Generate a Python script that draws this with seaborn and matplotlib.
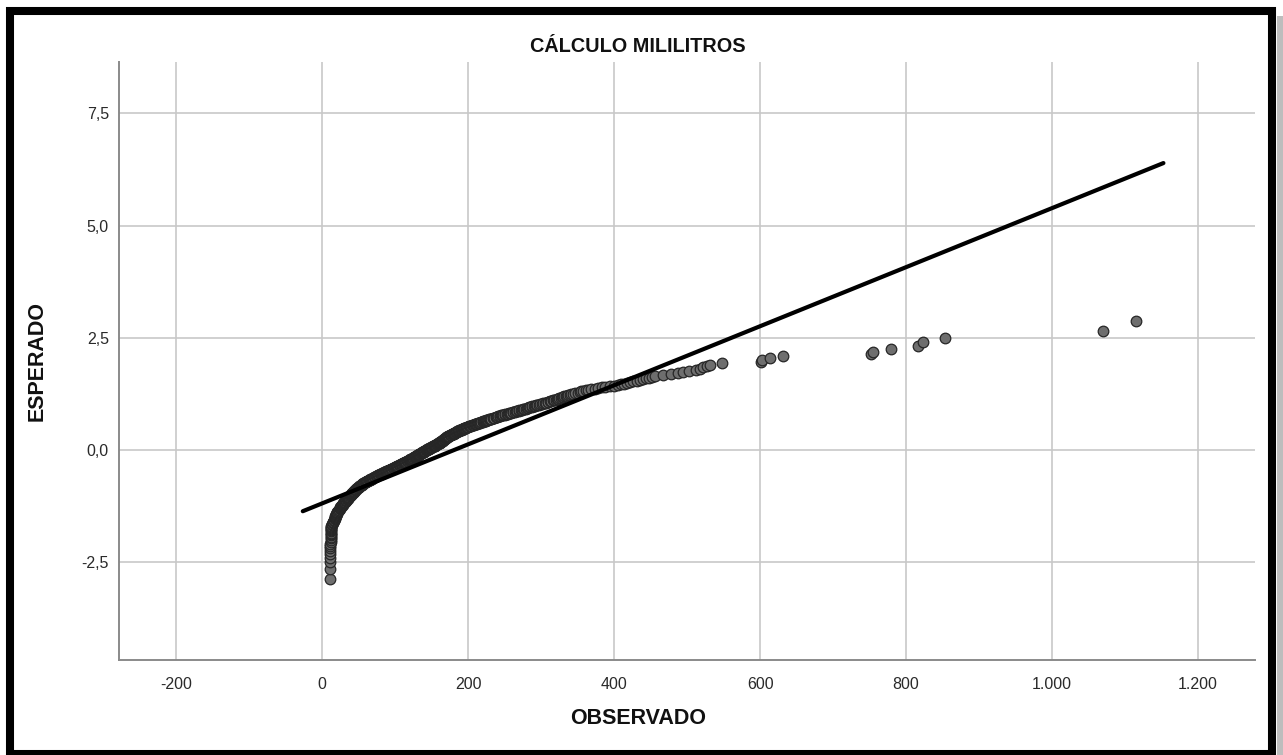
import statistics
import numpy as np
import pandas as pd
import matplotlib
matplotlib.use("Agg")
import matplotlib.pyplot as plt
from matplotlib.patches import Rectangle
import seaborn as sns

# ---------------- data ----------------
title = "CÁLCULO MILILITROS"
x_label = "OBSERVADO"
y_label = "ESPERADO"
x_ticks = [-200, 0, 200, 400, 600, 800, 1000, 1200]
x_tick_labels = ["-200", "0", "200", "400", "600", "800", "1.000", "1.200"]
y_ticks = [-2.5, 0.0, 2.5, 5.0, 7.5]
y_tick_labels = ["-2,5", "0,0", "2,5", "5,0", "7,5"]

observed_ml = [
    11, 11, 11, 11, 11, 11, 11, 11, 11,
    12, 12, 12, 12, 12, 12, 12, 12, 12, 12, 12, 12, 12,
    13, 14, 15,
    15, 15, 16, 16, 17, 17, 17, 18, 18, 19, 19, 19, 20, 20, 21, 21, 22,
    22, 23, 23, 24, 24, 25, 25, 26, 26,
    27, 27, 28, 28, 29, 29, 30, 30, 31, 31, 32, 32, 33, 33, 34, 34, 35,
    35, 36, 36, 37, 37, 38, 38, 39, 39, 40, 40, 41, 41, 41, 42, 42, 43, 43, 44, 44, 44, 45, 45,
    46, 46, 47, 47, 48, 48, 49, 50, 50, 51, 51, 52, 52, 53, 54, 54, 55, 55, 56, 56, 57,
    58, 58, 59, 60, 60, 61, 62, 62, 63, 64, 65, 65, 66, 67, 67, 68, 69, 69, 70, 71, 72, 72, 73,
    74, 75, 75, 76, 77, 78, 78, 79, 80, 81, 82, 82, 83, 84, 85, 85, 86, 87, 88, 89, 89, 90, 91,
    92, 92, 93, 94, 95, 96, 96, 97,
    98, 98, 99, 100, 100, 101, 102, 102, 103, 104, 104, 105, 106, 106, 107, 108, 108, 109, 109,
    110, 111, 111, 112, 113, 113, 114, 115, 115, 116, 117, 117, 118, 119, 119, 120,
    121, 121, 122, 122, 123, 123, 124, 124, 125, 125, 126, 126, 127, 128, 128, 129, 129, 130,
    130, 131, 131, 132, 132, 133, 133, 134, 134, 135, 136, 136, 137, 137, 138, 138, 139, 139,
    140, 140, 141, 141, 142, 142, 143,
    144, 144, 145, 145, 146, 147, 147, 148, 148, 149, 149, 150, 151, 151, 152, 152, 153, 154,
    154, 155, 155, 156, 156, 157, 158, 158, 159, 159, 160,
    160, 161, 161, 162, 162, 162, 163, 163, 164, 164, 165, 165, 165, 166, 166, 167, 167, 167,
    168, 168, 169, 169, 169, 170, 170, 171, 171,
    172, 172, 173, 174, 174, 175, 176, 176, 177, 178, 178, 179, 180, 180, 181, 182, 182, 183,
    183, 184, 185, 185,
    186, 187, 187, 188, 189, 190, 191, 191, 192, 193, 194, 195, 195, 196, 197, 198, 198, 199, 200,
    201, 202, 203, 204, 205, 206, 208, 209, 210, 211, 212, 213, 214, 215, 216, 217, 218, 220,
    221, 222, 223, 224, 225, 226,
    227, 229, 230, 231, 232, 234, 235, 236, 238, 239, 240, 241, 243, 244, 245, 247, 248,
    250, 251, 253, 254, 256, 258, 259, 261, 262, 264, 266, 267, 269, 270, 272,
    274, 275, 277, 279, 280, 282, 284, 285, 287, 288, 290, 292, 293, 295,
    297, 299, 301, 303, 305, 307, 309, 310, 312, 314, 316, 318,
    320, 322, 323, 325, 327, 329, 330, 332, 334, 336, 337, 339, 341,
    344, 347, 350, 353, 355, 358, 361, 364,
    369, 374, 378, 383, 388,
    394, 400, 405,
    409, 414, 418,
    422, 426, 431, 435,
    440, 444,
    448, 452, 456,
    467, 478, 487, 495, 503, 512, 518, 522, 527, 532, 548,
    601, 603, 614, 631, 752, 754, 779, 816, 823, 853, 1070, 1115,
]

# parameters of the normal reference line
normal_mean = 181.0
normal_sd = 152.0

# ---------------- Q-Q transform ----------------
n = len(observed_ml)
nd = statistics.NormalDist()
expected = [nd.inv_cdf(r / (n + 1)) for r in range(1, n + 1)]
df = pd.DataFrame({"observado": sorted(observed_ml), "esperado": expected})

xmin, xmax = min(observed_ml), max(observed_ml)
pad = 0.034 * (xmax - xmin)
line_x = [xmin - pad, xmax + pad]
line_df = pd.DataFrame({"x": line_x,
                        "y": [(v - normal_mean) / normal_sd for v in line_x]})

# ---------------- figure ----------------
sns.set_theme(style="white")
plt.rcParams["font.family"] = ["Liberation Sans", "DejaVu Sans"]

W, H = 1283, 755
fig = plt.figure(figsize=(W / 100, H / 100), dpi=100)
fig.patch.set_facecolor("white")

ax_left, ax_right, ax_top, ax_bottom = 118.5, 1255, 61.7, 660
ax = fig.add_axes([ax_left / W, (H - ax_bottom) / H,
                   (ax_right - ax_left) / W, (ax_bottom - ax_top) / H])

sns.scatterplot(data=df, x="observado", y="esperado", ax=ax, s=58,
                color="#6e6e6e", edgecolor="#262626", linewidth=0.9,
                zorder=3, legend=False)
sns.lineplot(data=line_df, x="x", y="y", ax=ax, color="black",
             linewidth=3.0, zorder=4, legend=False)

ax.set_xlim(-279, 1278)
ax.set_ylim(-4.68, 8.65)
ax.set_xticks(x_ticks)
ax.set_xticklabels(x_tick_labels)
ax.set_yticks(y_ticks)
ax.set_yticklabels(y_tick_labels)
ax.tick_params(axis="both", length=0, labelsize=11.5, labelcolor="#2a2a2a")
ax.tick_params(axis="x", pad=12)
ax.tick_params(axis="y", pad=7)
ax.grid(True, color="#c8c8c8", linewidth=1.2, zorder=0)
ax.set_axisbelow(True)
for side in ["top", "right"]:
    ax.spines[side].set_visible(False)
for side in ["left", "bottom"]:
    ax.spines[side].set_color("#8a8a8a")
    ax.spines[side].set_linewidth(1.4)
ax.set_xlabel("")
ax.set_ylabel(y_label, fontsize=15.5, fontweight="bold", color="#111111")
ax.yaxis.set_label_coords((48 - ax_left) / (ax_right - ax_left), 0.5)

fig.text(638 / W, 1 - 46 / H, title, ha="center", va="center",
         fontsize=14.3, fontweight="bold", color="#111111")
fig.text(638 / W, 1 - 719 / H, x_label, ha="center", va="center",
         fontsize=15.5, fontweight="bold", color="#111111")

# outer frame with shadow
fig.patches.append(Rectangle((1277 / W, 0), 6 / W, (H - 16) / H,
                             transform=fig.transFigure, facecolor="#bdbdbd",
                             edgecolor="none", zorder=0))
fig.patches.append(Rectangle((9.5 / W, 1 / H), (1272 - 9.5) / W, (754 - 11) / H,
                             transform=fig.transFigure, fill=False,
                             edgecolor="black", linewidth=5.8, zorder=10))

fig.savefig("out.png", dpi=100, facecolor="white")
